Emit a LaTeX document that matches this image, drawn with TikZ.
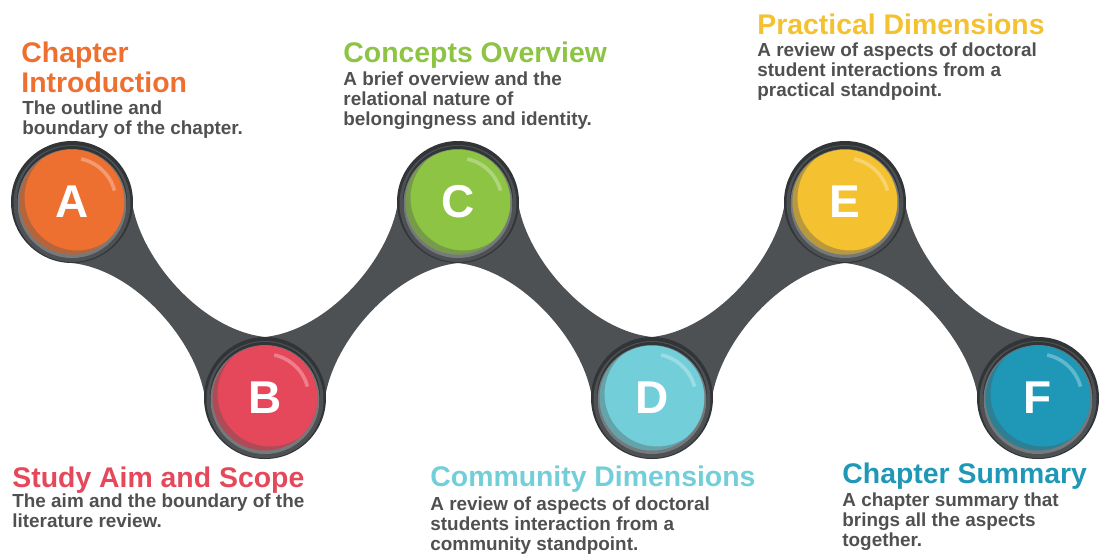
\documentclass[tikz,border=0pt]{standalone}
\usepackage{fontspec}
\setmainfont{Liberation Sans}
\usetikzlibrary{calc, positioning}

\definecolor{bandgray}{RGB}{77, 81, 83}
\definecolor{ringdark}{RGB}{50, 53, 55}
\definecolor{rimgray}{RGB}{118, 121, 123}
\definecolor{textgray}{RGB}{80, 80, 80}
\definecolor{introorange}{RGB}{238, 112, 49}
\definecolor{aimred}{RGB}{229, 72, 90}
\definecolor{conceptgreen}{RGB}{141, 196, 68}
\definecolor{communitycyan}{RGB}{114, 207, 217}
\definecolor{practicalyellow}{RGB}{244, 193, 49}
\definecolor{summaryteal}{RGB}{31, 152, 184}

\tikzset{
  stage title/.style={anchor=base west, inner sep=0pt, align=left,
    font=\fontsize{14.2}{15}\selectfont\bfseries},
  stage text/.style={anchor=base west, inner sep=0pt, align=left, text=textgray,
    font=\fontsize{9.45}{10}\selectfont\bfseries},
  bead letter/.style={inner sep=0pt, text=white,
    font=\fontsize{23}{23}\selectfont\bfseries}
}

\begin{document}
\begin{tikzpicture}[x=0.5pt, y=0.5pt]
  \useasboundingbox (0,0) rectangle (1099,-553);

  % Bead centres
  \foreach \n/\x/\y in {A/72/-202, B/265/-398, C/458/-202, D/652/-398, E/845/-202, F/1038/-398}
    \coordinate (\n) at (\x,\y);

  % Bands going down
  \foreach \hi/\lo in {A/B, C/D, E/F} {
    \fill[bandgray] ($(\hi)+(60,0)$) .. controls ($(\hi)+(68,-56)$) and ($(\lo)+(-64,68)$) .. ($(\lo)+(0,61)$)
      -- ($(\lo)+(-60,0)$) .. controls ($(\lo)+(-68,56)$) and ($(\hi)+(64,-68)$) .. ($(\hi)+(0,-61)$) -- cycle;
  }
  % Bands going up
  \foreach \lo/\hi in {B/C, D/E} {
    \fill[bandgray] ($(\lo)+(0,61)$) .. controls ($(\lo)+(64,68)$) and ($(\hi)+(-68,-56)$) .. ($(\hi)+(-60,0)$)
      -- ($(\hi)+(0,-61)$) .. controls ($(\hi)+(-64,-68)$) and ($(\lo)+(68,56)$) .. ($(\lo)+(60,0)$) -- cycle;
  }

  % Beads
  \foreach \n/\col in {A/introorange, B/aimred, C/conceptgreen, D/communitycyan, E/practicalyellow, F/summaryteal} {
    \fill[ringdark] (\n) circle (61);
    \fill[bandgray] ($(\n)+(0,-1.5)$) circle (58.5);
    \fill[ringdark] ($(\n)+(0,1)$) circle (55);
    \fill[rimgray] ($(\n)+(0,-1.5)$) circle (54.5);
    \fill[\col] (\n) circle (52.5);
    \begin{scope}
      \clip (\n) circle (52.5);
      \fill[bandgray, opacity=0.35, even odd rule] (\n) circle (52.5) ($(\n)+(5,4)$) circle (52.5);
    \end{scope}
    \draw[white, opacity=0.3, line width=1.8pt] (\n) ++(15:44) arc (15:78:44);
    \node[bead letter] (\n-letter) at (\n) {\n};
  }

  % Stage labels (multi-line nodes sit on their last baseline)
  \node[stage title, text=introorange] (introTitle) at (21,-92) {Chapter\\Introduction};
  \node[stage text] (introText) at (22,-134) {The outline and\\boundary of the chapter.};
  \node[stage title, text=conceptgreen] (conceptTitle) at (343,-62) {Concepts Overview};
  \node[stage text] (conceptText) at (343,-125) {A brief overview and the\\relational nature of\\belongingness and identity.};
  \node[stage title, text=practicalyellow] (practicalTitle) at (757,-34) {Practical Dimensions};
  \node[stage text] (practicalText) at (757,-96) {A review of aspects of doctoral\\student interactions from a\\practical standpoint.};
  \node[stage title, text=aimred] (aimTitle) at (12,-487) {Study Aim and Scope};
  \node[stage text] (aimText) at (12,-527) {The aim and the boundary of the\\literature review.};
  \node[stage title, text=communitycyan] (communityTitle) at (430,-486) {Community Dimensions};
  \node[stage text] (communityText) at (430,-550) {A review of aspects of doctoral\\students interaction from a\\community standpoint.};
  \node[stage title, text=summaryteal] (summaryTitle) at (842,-483) {Chapter Summary};
  \node[stage text] (summaryText) at (842,-546) {A chapter summary that\\brings all the aspects\\together.};
\end{tikzpicture}
\end{document}
